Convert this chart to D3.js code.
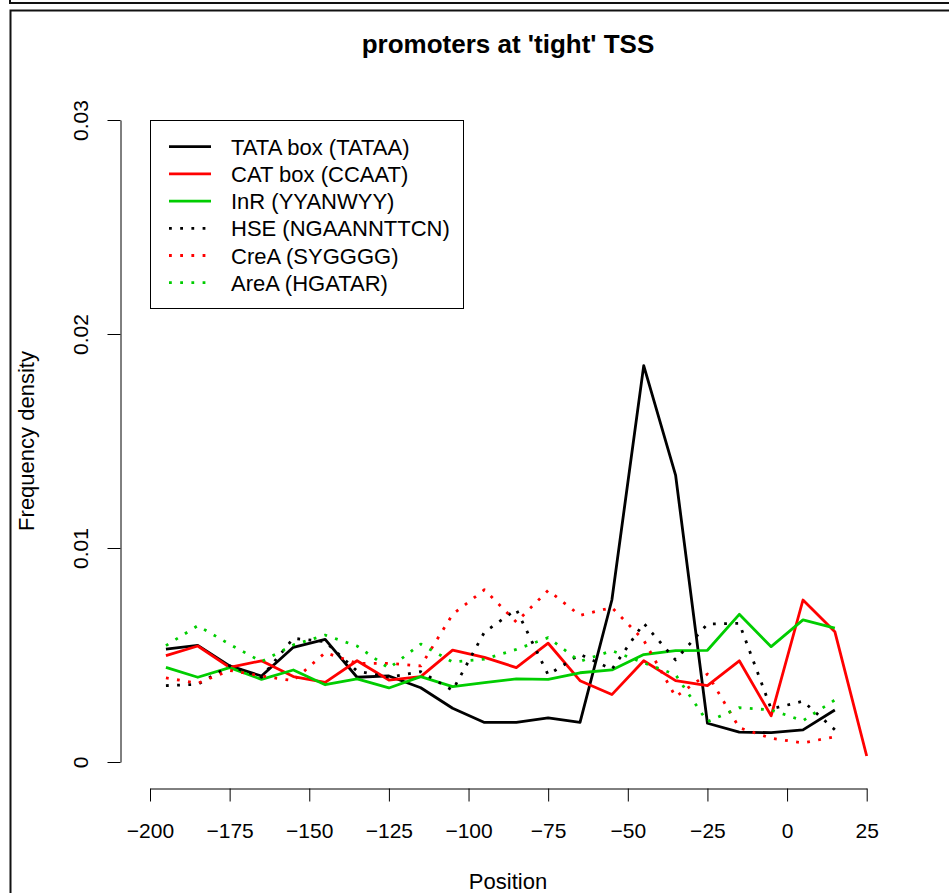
<!DOCTYPE html>
<html>
<head>
  <meta charset="utf-8">
  <script src="https://d3js.org/d3.v7.min.js"></script>
  <style>
    body { margin: 0; background: #fff; }
    svg text { font-family: "Liberation Sans", Arial, Helvetica, sans-serif; fill: #000; }
    .tick text { font-size: 21px; }
    .axis-label { font-size: 22px; }
    .title { font-size: 26px; font-weight: bold; }
    .legend text { font-size: 22px; }
  </style>
</head>
<body>
  <svg width="949" height="893"></svg>
  <script>
    // bin centres (bp relative to TSS)
    const positions = [-195, -185, -175, -165, -155, -145, -135, -125, -115, -105, -95,
      -85, -75, -65, -55, -45, -35, -25, -15, -5, 5, 15];
    const positionsCat = positions.concat([25]);

    // frequency densities (x 1e-3)
    const tata = [5.27, 5.45, 4.49, 4.02, 5.36, 5.73, 3.96, 4.02, 3.47, 2.51, 1.85,
      1.85, 2.06, 1.85, 7.57, 18.52, 13.41, 1.81, 1.40, 1.37, 1.50, 2.43];
    const cat = [4.97, 5.42, 4.42, 4.73, 3.99, 3.72, 4.73, 3.83, 3.99, 5.23, 4.89,
      4.41, 5.55, 3.80, 3.15, 4.73, 3.80, 3.57, 4.73, 2.16, 7.57, 6.09, 0.28];
    const inr = [4.42, 3.96, 4.41, 3.86, 4.30, 3.61, 3.88, 3.46, 3.99, 3.52, 3.71,
      3.88, 3.86, 4.17, 4.30, 5.02, 5.20, 5.22, 6.90, 5.39, 6.64, 6.26];
    const hse = [3.57, 3.63, 4.49, 3.96, 5.78, 5.62, 4.25, 3.96, 4.22, 3.35, 6.07,
      7.13, 4.07, 5.03, 4.33, 6.48, 4.77, 6.45, 6.48, 2.48, 2.84, 1.51];
    const crea = [3.93, 3.68, 4.28, 4.02, 3.80, 5.11, 4.61, 4.61, 4.49, 6.90, 8.05,
      6.54, 8.02, 6.85, 7.22, 5.69, 3.05, 4.11, 1.60, 1.11, 0.89, 1.18];
    const area = [5.44, 6.37, 5.50, 4.69, 5.47, 5.93, 5.42, 4.38, 5.51, 4.67, 4.81,
      5.26, 5.81, 4.70, 5.20, 4.63, 4.08, 1.88, 2.54, 2.43, 1.93, 2.90];

    const xTicks = [-200, -175, -150, -125, -100, -75, -50, -25, 0, 25];
    const yTicks = [0, 0.01, 0.02, 0.03];

    const series = [
      { label: 'TATA box (TATAA)', x: positions, v: tata, color: '#000000', dotted: false },
      { label: 'CAT box (CCAAT)', x: positionsCat, v: cat, color: '#FF0000', dotted: false },
      { label: 'InR (YYANWYY)', x: positions, v: inr, color: '#00CD00', dotted: false },
      { label: 'HSE (NGAANNTTCN)', x: positions, v: hse, color: '#000000', dotted: true },
      { label: 'CreA (SYGGGG)', x: positions, v: crea, color: '#FF0000', dotted: true },
      { label: 'AreA (HGATAR)', x: positions, v: area, color: '#00CD00', dotted: true }
    ];

    const svg = d3.select('svg');

    // frame lines of the device
    svg.append('path')
      .attr('d', 'M10,0 V3 H949')
      .attr('fill', 'none').attr('stroke', '#111').attr('stroke-width', 2);
    svg.append('path')
      .attr('d', 'M949,10.5 H10.5 V893')
      .attr('fill', 'none').attr('stroke', '#111').attr('stroke-width', 2);

    const xScale = d3.scaleLinear().domain([-200, 25]).range([150, 866.7]);
    const yScale = d3.scaleLinear().domain([0, 0.03]).range([762, 120]);

    const xAxisG = svg.append('g')
      .attr('transform', 'translate(0,788.5)')
      .call(d3.axisBottom(xScale).tickValues(xTicks).tickSize(13).tickSizeOuter(0));
    xAxisG.selectAll('.tick text').attr('y', 49).attr('dy', 0);

    const yAxisG = svg.append('g')
      .attr('transform', 'translate(120.5,0)')
      .call(d3.axisLeft(yScale).tickValues(yTicks).tickSize(13).tickSizeOuter(0)
        .tickFormat(d => d === 0 ? '0' : d3.format('.2f')(d)));
    yAxisG.selectAll('.tick text')
      .attr('transform', 'rotate(-90)')
      .attr('x', 0).attr('y', -33).attr('dy', 0)
      .attr('text-anchor', 'middle');

    svg.selectAll('.domain, .tick line').attr('stroke', '#000').attr('stroke-width', 1);
    svg.selectAll('.tick text').attr('font-family', null).attr('font-size', null);

    svg.append('text').attr('class', 'title')
      .attr('x', 508).attr('y', 53).attr('text-anchor', 'middle')
      .text("promoters at 'tight' TSS");

    svg.append('text').attr('class', 'axis-label')
      .attr('x', 508).attr('y', 889).attr('text-anchor', 'middle')
      .text('Position');

    svg.append('text').attr('class', 'axis-label')
      .attr('transform', 'translate(34,441) rotate(-90)')
      .attr('text-anchor', 'middle')
      .text('Frequency density');

    const line = d3.line()
      .x(d => xScale(d[0]))
      .y(d => yScale(d[1] / 1000));

    svg.append('g').selectAll('path')
      .data(series)
      .join('path')
      .attr('d', s => line(s.x.map((p, i) => [p, s.v[i]])))
      .attr('fill', 'none')
      .attr('stroke', s => s.color)
      .attr('stroke-width', 2.8)
      .attr('stroke-dasharray', s => s.dotted ? '2.8 8.4' : null)
      .attr('stroke-linejoin', 'round');

    // legend
    const lx = xScale(-200), ly = yScale(0.03);
    const legend = svg.append('g').attr('class', 'legend');
    legend.append('rect')
      .attr('x', lx + 0.5).attr('y', ly + 0.5)
      .attr('width', 313).attr('height', 188)
      .attr('fill', '#fff').attr('stroke', '#000').attr('stroke-width', 1);
    const rows = legend.selectAll('g.row')
      .data(series)
      .join('g').attr('class', 'row')
      .attr('transform', (s, i) => `translate(${lx},${ly + 26.7 + i * 27.2})`);
    rows.append('line')
      .attr('x1', 19).attr('x2', 61)
      .attr('stroke', s => s.color)
      .attr('stroke-width', 2.8)
      .attr('stroke-dasharray', s => s.dotted ? '2.8 8.4' : null);
    rows.append('text')
      .attr('x', 81).attr('y', 8)
      .text(s => s.label);
  </script>
</body>
</html>
